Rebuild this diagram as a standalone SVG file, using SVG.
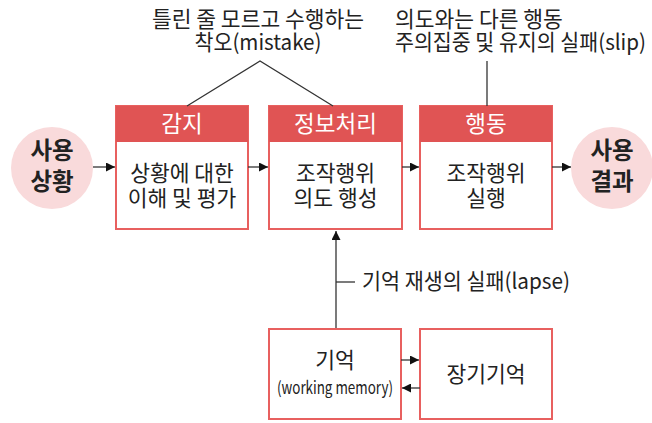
<svg xmlns="http://www.w3.org/2000/svg" width="652" height="423" viewBox="0 0 652 423">
<style>
text{font-family:"Noto Sans CJK KR","Noto Sans",sans-serif;fill:#222;}
.box{fill:#fff;stroke:#e8605f;stroke-width:2;}
.hdr{fill:#e05454;}
.ht{fill:#fff;font-size:22.5px;text-anchor:middle;}
.bt{font-size:21.5px;text-anchor:middle;}
.circ{fill:#f9dadb;}
.ct{font-size:23.5px;font-weight:bold;text-anchor:middle;}
.ln{stroke:#333;stroke-width:1.3;fill:none;}
.ann{font-size:21.5px;}
</style>
<defs>
<marker id="ah" viewBox="0 0 10 10" refX="10" refY="5" markerWidth="9" markerHeight="9" markerUnits="userSpaceOnUse" orient="auto">
<path d="M0,0 L10,5 L0,10 z" fill="#111"/>
</marker>
</defs>
<g id="use-situation">
<circle class="circ" cx="52" cy="168" r="41"/>
<text class="ct" x="52" y="159">사용</text>
<text class="ct" x="52" y="190">상황</text>
</g>
<g id="perception">
<rect class="box" x="116" y="106" width="132" height="123"/>
<rect class="hdr" x="116" y="106" width="132" height="36"/>
<text class="ht" x="182" y="132">감지</text>
<text class="bt" x="182" y="181">상황에 대한</text>
<text class="bt" x="182" y="206">이해 및 평가</text>
</g>
<g id="processing">
<rect class="box" x="269" y="106" width="133" height="123"/>
<rect class="hdr" x="269" y="106" width="133" height="36"/>
<text class="ht" x="335.5" y="132">정보처리</text>
<text class="bt" x="335.5" y="181">조작행위</text>
<text class="bt" x="335.5" y="206">의도 행성</text>
</g>
<g id="action">
<rect class="box" x="420" y="106" width="132" height="123"/>
<rect class="hdr" x="420" y="106" width="132" height="36"/>
<text class="ht" x="486" y="132">행동</text>
<text class="bt" x="486" y="181">조작행위</text>
<text class="bt" x="486" y="206">실행</text>
</g>
<g id="use-result">
<circle class="circ" cx="612" cy="168" r="41"/>
<text class="ct" x="612" y="159">사용</text>
<text class="ct" x="612" y="190">결과</text>
</g>
<g id="working-memory">
<rect class="box" x="269" y="329" width="132" height="90"/>
<text class="bt" x="335" y="368">기억</text>
<text x="335" y="394" font-size="17" text-anchor="middle" textLength="116" lengthAdjust="spacingAndGlyphs">(working memory)</text>
</g>
<g id="long-term-memory">
<rect class="box" x="420" y="329" width="132" height="90"/>
<text class="bt" x="486" y="382">장기기억</text>
</g>
<g id="annotations">
<text class="ann" x="258" y="27" text-anchor="middle">틀린 줄 모르고 수행하는</text>
<text class="ann" x="258" y="50" text-anchor="middle" textLength="127" lengthAdjust="spacingAndGlyphs">착오(mistake)</text>
<text class="ann" x="395" y="27">의도와는 다른 행동</text>
<text class="ann" x="395" y="50" font-size="20.8" textLength="251" lengthAdjust="spacingAndGlyphs">주의집중 및 유지의 실패(slip)</text>
<text class="ann" x="362" y="289" textLength="208" lengthAdjust="spacingAndGlyphs">기억 재생의 실패(lapse)</text>
</g>
<g id="connectors">
<line class="ln" x1="93" y1="167" x2="115" y2="167" marker-end="url(#ah)"/>
<line class="ln" x1="248" y1="167" x2="268" y2="167" marker-end="url(#ah)"/>
<line class="ln" x1="402" y1="167" x2="419" y2="167" marker-end="url(#ah)"/>
<line class="ln" x1="552" y1="167" x2="571" y2="167" marker-end="url(#ah)"/>
<line class="ln" x1="336" y1="328" x2="336" y2="231" marker-end="url(#ah)"/>
<line class="ln" x1="336" y1="282" x2="355" y2="282"/>
<line class="ln" x1="401" y1="360" x2="419" y2="360" marker-end="url(#ah)"/>
<line class="ln" x1="420" y1="388" x2="402" y2="388" marker-end="url(#ah)"/>
<polyline class="ln" points="187,106 260,61 333,106"/>
<line class="ln" x1="487" y1="61" x2="487" y2="106"/>
</g>
</svg>
